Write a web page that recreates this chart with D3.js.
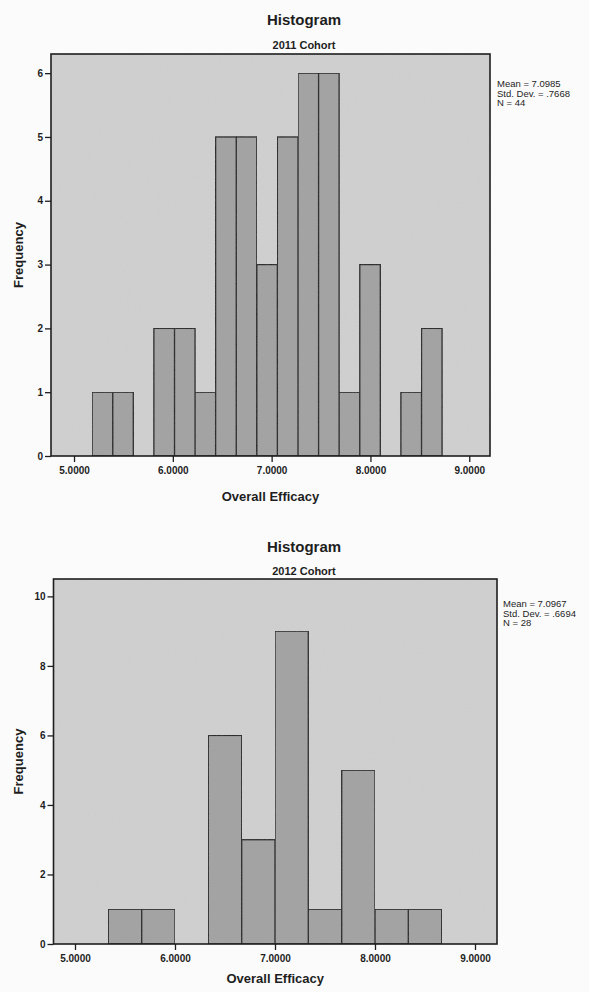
<!DOCTYPE html>
<html>
<head>
<meta charset="utf-8">
<script src="https://cdn.jsdelivr.net/npm/d3@7"></script>
<style>
  html, body { margin: 0; padding: 0; background: #fbfbfb; }
  svg { display: block; }
</style>
</head>
<body>
<svg id="chart" width="589" height="992"></svg>
<script>
// Two SPSS-style histograms of "Overall Efficacy", one per cohort.

// --- data -------------------------------------------------------------
const EDGES_2011  = [5.183, 5.392, 5.600, 5.808, 6.017, 6.225, 6.433, 6.642, 6.850,
                     7.058, 7.267, 7.475, 7.683, 7.892, 8.100, 8.308, 8.517, 8.725];
const COUNTS_2011 = [1, 1, 0, 2, 2, 1, 5, 5, 3, 5, 6, 6, 1, 3, 0, 1, 2];
const STATS_2011  = ["Mean = 7.0985", "Std. Dev. = .7668", "N = 44"];

const EDGES_2012  = [5.333, 5.667, 6.000, 6.333, 6.667, 7.000, 7.333, 7.667, 8.000, 8.333, 8.667];
const COUNTS_2012 = [1, 1, 0, 6, 3, 9, 1, 5, 1, 1];
const STATS_2012  = ["Mean = 7.0967", "Std. Dev. = .6694", "N = 28"];

const X_TICKS      = [5, 6, 7, 8, 9];
const X_TICK_LABEL = ["5.0000", "6.0000", "7.0000", "8.0000", "9.0000"];
const Y_TICKS_2011 = [0, 1, 2, 3, 4, 5, 6];
const Y_TICKS_2012 = [0, 2, 4, 6, 8, 10];

// --- layout -----------------------------------------------------------
const PANELS = [
  { subtitle: "2011 Cohort", edges: EDGES_2011, counts: COUNTS_2011, stats: STATS_2011,
    yTicks: Y_TICKS_2011, yMax: 6.3, xDomain: [4.767, 9.21],
    box: { left: 51, right: 490, top: 54, bottom: 456 },
    titleY: 25, subY: 49, xTitleGap: 45, legend: { x: 497, y: 87 } },
  { subtitle: "2012 Cohort", edges: EDGES_2012, counts: COUNTS_2012, stats: STATS_2012,
    yTicks: Y_TICKS_2012, yMax: 10.5, xDomain: [4.785, 9.22],
    box: { left: 53.5, right: 497, top: 579, bottom: 944 },
    titleY: 552, subY: 575, xTitleGap: 39, legend: { x: 503, y: 607 } },
];

const FONT     = "'Liberation Sans', Arial, sans-serif";
const INK      = "#1e1e1e";
const PLOT_BG  = "#d0d0d0";
const BAR_FILL = "#a2a2a2";
const CENTER_X = 304;

const svg = d3.select("#chart");

// faint grain, like the scanned original
const defs = svg.append("defs");
const grain = defs.append("filter").attr("id", "grain")
  .attr("x", 0).attr("y", 0).attr("width", "100%").attr("height", "100%");
grain.append("feTurbulence")
  .attr("type", "fractalNoise").attr("baseFrequency", 0.9)
  .attr("numOctaves", 2).attr("seed", 4).attr("result", "n");
grain.append("feColorMatrix")
  .attr("in", "n").attr("type", "matrix")
  .attr("values", "0 0 0 0 0.5  0 0 0 0 0.5  0 0 0 0 0.5  0 0 0 0.10 0")
  .attr("result", "g");
grain.append("feComposite").attr("in", "g").attr("in2", "SourceGraphic").attr("operator", "in").attr("result", "gi");
grain.append("feMerge").call(m => {
  m.append("feMergeNode").attr("in", "SourceGraphic");
  m.append("feMergeNode").attr("in", "gi");
});

PANELS.forEach(drawPanel);

function drawPanel(p) {
  const b = p.box;
  const x = d3.scaleLinear().domain(p.xDomain).range([b.left, b.right]);
  const y = d3.scaleLinear().domain([0, p.yMax]).range([b.bottom, b.top]);

  // titles
  svg.append("text")
    .attr("x", CENTER_X).attr("y", p.titleY)
    .attr("text-anchor", "middle")
    .attr("font-family", FONT).attr("font-weight", "bold").attr("font-size", "15px")
    .attr("fill", INK)
    .text("Histogram");

  svg.append("text")
    .attr("x", CENTER_X).attr("y", p.subY)
    .attr("text-anchor", "middle")
    .attr("font-family", FONT).attr("font-weight", "bold").attr("font-size", "11px")
    .attr("fill", INK)
    .text(p.subtitle);

  // plot area
  svg.append("rect")
    .attr("x", b.left).attr("y", b.top)
    .attr("width", b.right - b.left).attr("height", b.bottom - b.top)
    .attr("fill", PLOT_BG)
    .attr("filter", "url(#grain)");

  // bars
  const bins = p.counts.map((c, i) => ({ x0: p.edges[i], x1: p.edges[i + 1], n: c }))
    .filter(d => d.n > 0);

  svg.append("g").selectAll("rect")
    .data(bins)
    .join("rect")
      .attr("x",      d => x(d.x0))
      .attr("y",      d => y(d.n))
      .attr("width",  d => x(d.x1) - x(d.x0))
      .attr("height", d => y(0) - y(d.n))
      .attr("fill",   BAR_FILL)
      .attr("stroke", INK)
      .attr("stroke-width", 1.3)
      .attr("filter", "url(#grain)");

  // frame
  svg.append("rect")
    .attr("x", b.left).attr("y", b.top)
    .attr("width", b.right - b.left).attr("height", b.bottom - b.top)
    .attr("fill", "none")
    .attr("stroke", INK)
    .attr("stroke-width", 1.6);

  // y axis
  const yAxisG = svg.append("g")
    .attr("transform", `translate(${b.left},0)`)
    .call(d3.axisLeft(y).tickValues(p.yTicks).tickFormat(d3.format("d"))
      .tickSize(6).tickPadding(2).tickSizeOuter(0));
  yAxisG.select(".domain").remove();
  yAxisG.selectAll(".tick line").attr("stroke", INK).attr("stroke-width", 1.3);
  yAxisG.selectAll("text")
    .attr("fill", INK)
    .attr("font-family", FONT).attr("font-weight", "bold").attr("font-size", "10px");

  // x axis
  const xAxisG = svg.append("g")
    .attr("transform", `translate(0,${b.bottom})`)
    .call(d3.axisBottom(x).tickValues(X_TICKS)
      .tickFormat((d, i) => X_TICK_LABEL[i]).tickSize(6).tickPadding(5).tickSizeOuter(0));
  xAxisG.select(".domain").remove();
  xAxisG.selectAll(".tick line").attr("stroke", INK).attr("stroke-width", 1.3);
  xAxisG.selectAll("text")
    .attr("fill", INK)
    .attr("font-family", FONT).attr("font-weight", "bold").attr("font-size", "10px");

  // axis titles
  svg.append("text")
    .attr("x", (b.left + b.right) / 2).attr("y", b.bottom + p.xTitleGap)
    .attr("text-anchor", "middle")
    .attr("font-family", FONT).attr("font-weight", "bold").attr("font-size", "13px")
    .attr("fill", INK)
    .text("Overall Efficacy");

  const fy = (b.top + b.bottom) / 2;
  svg.append("text")
    .attr("transform", `translate(23,${fy}) rotate(-90)`)
    .attr("text-anchor", "middle")
    .attr("font-family", FONT).attr("font-weight", "bold").attr("font-size", "13px")
    .attr("fill", INK)
    .text("Frequency");

  // stats legend
  svg.append("g").selectAll("text")
    .data(p.stats)
    .join("text")
      .attr("x", p.legend.x)
      .attr("y", (d, i) => p.legend.y + i * 9.5)
      .attr("font-family", FONT).attr("font-size", "9.5px")
      .attr("fill", INK)
      .text(d => d);
}
</script>
</body>
</html>
